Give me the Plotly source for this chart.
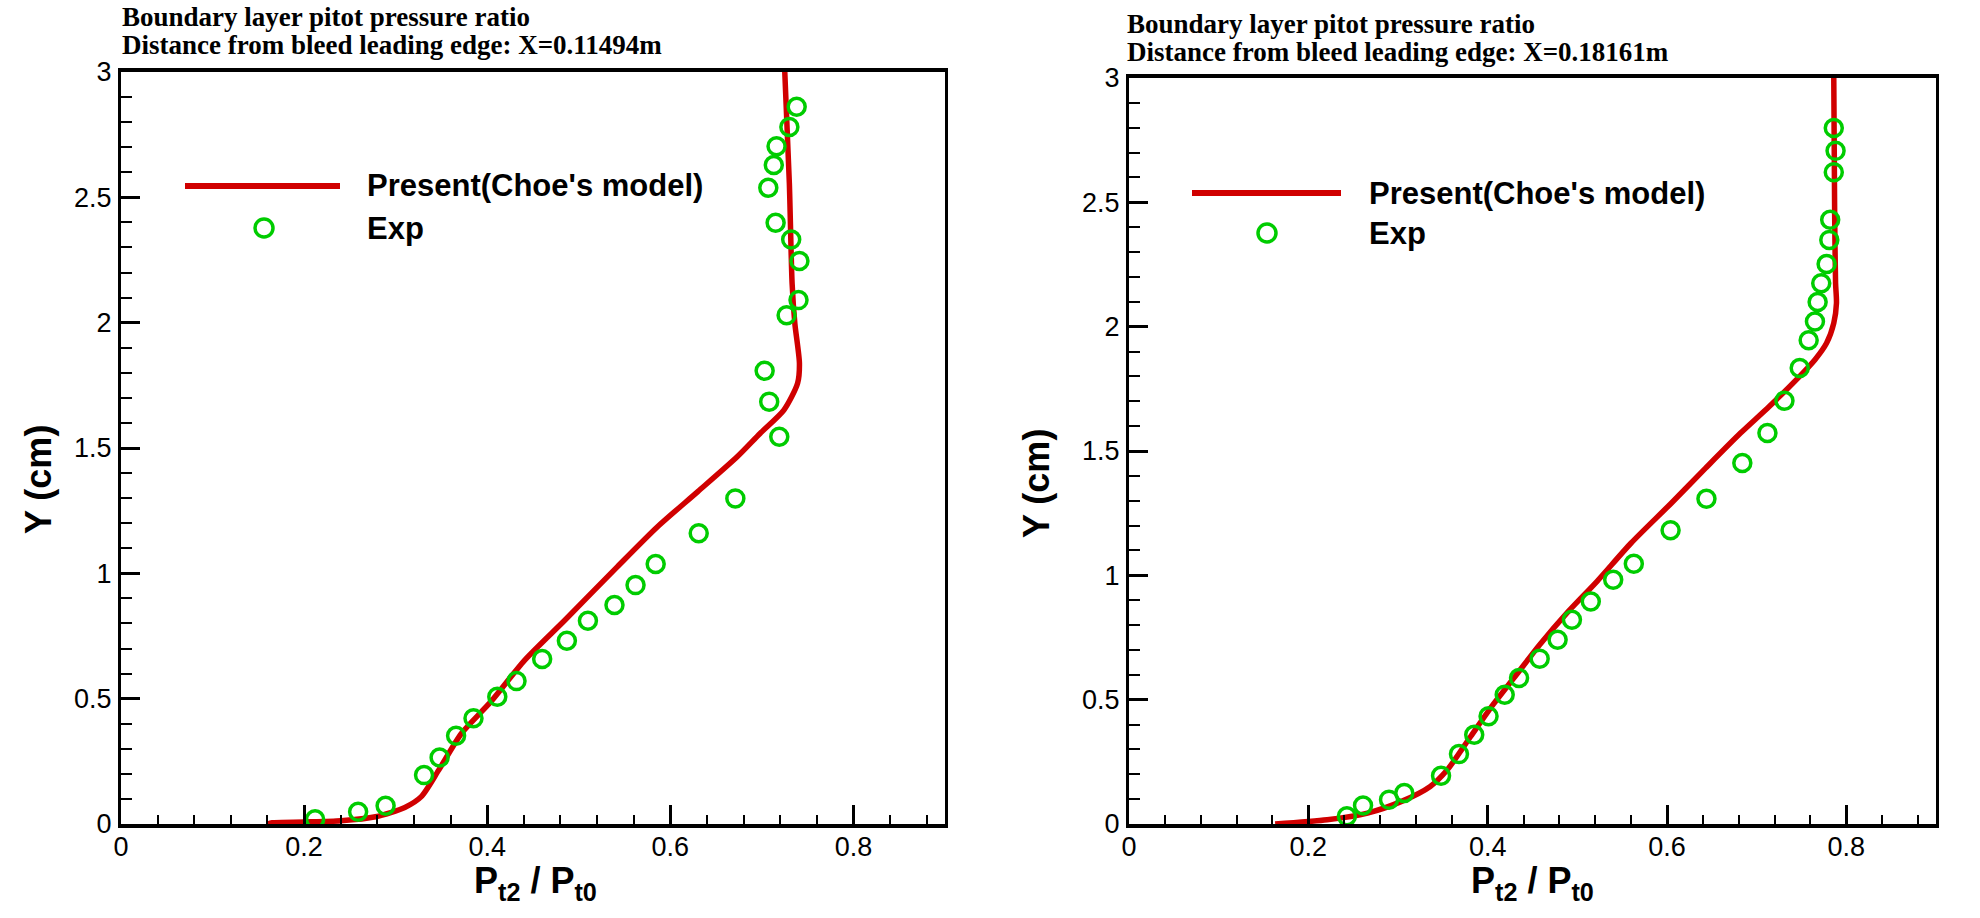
import plotly.graph_objects as go

# ---------------- data ----------------
# Left panel: X = 0.11494 m
x_cfd_1 = [0.160, 0.165, 0.200, 0.240, 0.278, 0.310, 0.328, 0.347, 0.372, 0.404, 0.441,
           0.485, 0.542, 0.586, 0.630, 0.673, 0.698, 0.724, 0.739, 0.741, 0.736, 0.733,
           0.730, 0.725]
y_cfd_1 = [0.000, 0.005, 0.008, 0.013, 0.029, 0.066, 0.109, 0.215, 0.362, 0.488, 0.654,
           0.814, 1.026, 1.186, 1.326, 1.465, 1.558, 1.651, 1.758, 1.838, 1.997, 2.157,
           2.556, 3.000]
x_exp_1 = [0.738, 0.730, 0.716, 0.713, 0.707, 0.715, 0.732, 0.741, 0.740, 0.727, 0.703,
           0.708, 0.719, 0.671, 0.631, 0.584, 0.562, 0.539, 0.510, 0.487, 0.460, 0.432,
           0.411, 0.385, 0.366, 0.348, 0.331, 0.289, 0.259, 0.212]
y_exp_1 = [2.861, 2.781, 2.704, 2.629, 2.538, 2.399, 2.332, 2.246, 2.090, 2.030, 1.808,
           1.685, 1.545, 1.299, 1.160, 1.037, 0.953, 0.874, 0.811, 0.731, 0.658, 0.570,
           0.508, 0.422, 0.352, 0.265, 0.195, 0.073, 0.049, 0.019]

# Right panel: X = 0.18161 m
x_cfd_2 = [0.163, 0.221, 0.266, 0.304, 0.336, 0.355, 0.381, 0.406, 0.432, 0.458, 0.490,
           0.522, 0.560, 0.605, 0.643, 0.682, 0.714, 0.746, 0.765, 0.778, 0.786, 0.789,
           0.788, 0.787, 0.786]
y_cfd_2 = [0.000, 0.017, 0.044, 0.091, 0.151, 0.218, 0.352, 0.480, 0.600, 0.721, 0.855,
           0.976, 1.130, 1.291, 1.431, 1.572, 1.679, 1.793, 1.867, 1.934, 2.014, 2.095,
           2.175, 2.443, 3.000]
x_exp_2 = [0.786, 0.788, 0.786, 0.782, 0.781, 0.778, 0.772, 0.768, 0.765, 0.758, 0.748,
           0.731, 0.712, 0.684, 0.644, 0.604, 0.563, 0.540, 0.515, 0.494, 0.478, 0.458,
           0.435, 0.419, 0.401, 0.385, 0.368, 0.348, 0.307, 0.290, 0.261, 0.243]
y_exp_2 = [2.799, 2.707, 2.621, 2.430, 2.349, 2.252, 2.175, 2.099, 2.021, 1.945, 1.834,
           1.702, 1.572, 1.452, 1.308, 1.181, 1.047, 0.982, 0.895, 0.821, 0.741, 0.665,
           0.587, 0.520, 0.433, 0.359, 0.281, 0.194, 0.125, 0.098, 0.074, 0.031]

titles = ["Boundary layer pitot pressure ratio",
          ["Distance from bleed leading edge: X=0.11494m",
           "Distance from bleed leading edge: X=0.18161m"]]
series_names = ["Present(Choe's model)", "Exp"]
x_title = "P<sub>t2</sub> / P<sub>t0</sub>"
y_title = "Y (cm)"

# ---------------- style ----------------
W, H = 1980, 918
RED = "#D00000"
GREEN = "rgb(0,204,0)"
SANS = "Liberation Sans, Arial, sans-serif"
SERIF = "Liberation Serif, Times New Roman, serif"


def px(x):
    return x / W


def py(y):
    return 1 - y / H


panels = [
    dict(xd=[121, 945], yd=[72, 824], title_x=120, t1=17, t2=45,
         leg_line=[185, 340, 186], leg_txt=365, leg_mark=[264, 228],
         xt=[535, 883], yt=[38, 480]),
    dict(xd=[1129, 1936], yd=[78, 824], title_x=1125, t1=24, t2=52,
         leg_line=[1192, 1341, 193], leg_txt=1367, leg_mark=[1267, 233],
         xt=[1532, 883], yt=[1036, 484]),
]

data_sets = [(x_cfd_1, y_cfd_1, x_exp_1, y_exp_1), (x_cfd_2, y_cfd_2, x_exp_2, y_exp_2)]

fig = go.Figure()
annotations = []
shapes = []
layout_axes = {}

for i, (p, (xc, yc, xe, ye)) in enumerate(zip(panels, data_sets)):
    n = "" if i == 0 else str(i + 1)
    xa, ya = "x" + n, "y" + n
    fig.add_trace(go.Scatter(x=xc, y=yc, mode="lines", xaxis=xa, yaxis=ya,
                             line=dict(color=RED, width=5.5, shape="spline", smoothing=0.7),
                             name=series_names[0], showlegend=False))
    fig.add_trace(go.Scatter(x=xe, y=ye, mode="markers", xaxis=xa, yaxis=ya,
                             marker=dict(symbol="circle-open", size=17, color=GREEN,
                                         line=dict(color=GREEN, width=3.5)),
                             name=series_names[1], showlegend=False))
    layout_axes["xaxis" + n] = dict(
        domain=[px(p["xd"][0]), px(p["xd"][1])], range=[0, 0.9], anchor=ya,
        dtick=0.2, tick0=0, ticks="inside", ticklen=19, tickwidth=3, tickcolor="black",
        minor=dict(dtick=0.04, ticks="inside", ticklen=9, tickwidth=1.5, tickcolor="black"),
        showline=True, linewidth=4, linecolor="black", mirror=True,
        showgrid=False, zeroline=False, automargin=False,
        tickfont=dict(family=SANS, size=27, color="black"), ticklabelstandoff=-4,
    )
    layout_axes["yaxis" + n] = dict(
        domain=[py(p["yd"][1]), py(p["yd"][0])], range=[0, 3], anchor=xa,
        dtick=0.5, tick0=0, ticks="inside", ticklen=19, tickwidth=3, tickcolor="black",
        minor=dict(dtick=0.1, ticks="inside", ticklen=11, tickwidth=1.5, tickcolor="black"),
        showline=True, linewidth=3, linecolor="black", mirror=True,
        showgrid=False, zeroline=False, automargin=False,
        tickfont=dict(family=SANS, size=27, color="black"), ticklabelstandoff=1,
    )
    # titles
    annotations.append(dict(text="<b>" + titles[0] + "</b>", xref="paper", yref="paper",
                            x=px(p["title_x"]), y=py(p["t1"]), xanchor="left", yanchor="middle",
                            showarrow=False, font=dict(family=SERIF, size=27, color="black")))
    annotations.append(dict(text="<b>" + titles[1][i] + "</b>", xref="paper", yref="paper",
                            x=px(p["title_x"]), y=py(p["t2"]), xanchor="left", yanchor="middle",
                            showarrow=False, font=dict(family=SERIF, size=27, color="black")))
    # axis titles
    annotations.append(dict(text="<b>" + x_title + "</b>", xref="paper", yref="paper",
                            x=px(p["xt"][0]), y=py(p["xt"][1]), xanchor="center", yanchor="middle",
                            showarrow=False, font=dict(family=SANS, size=36, color="black")))
    annotations.append(dict(text="<b>" + y_title + "</b>", xref="paper", yref="paper",
                            x=px(p["yt"][0]), y=py(p["yt"][1]), xanchor="center", yanchor="middle",
                            textangle=-90, showarrow=False,
                            font=dict(family=SANS, size=36, color="black")))
    # custom legend
    l0, l1, ly = p["leg_line"]
    shapes.append(dict(type="line", xref="paper", yref="paper", x0=px(l0), x1=px(l1),
                       y0=py(ly), y1=py(ly), line=dict(color=RED, width=6)))
    mx, my = p["leg_mark"]
    r = 9
    shapes.append(dict(type="circle", xref="paper", yref="paper", x0=px(mx - r), x1=px(mx + r),
                       y0=py(my + r), y1=py(my - r), line=dict(color=GREEN, width=3.5)))
    annotations.append(dict(text="<b>" + series_names[0] + "</b>", xref="paper", yref="paper",
                            x=px(p["leg_txt"]), y=py(ly), xanchor="left", yanchor="middle",
                            showarrow=False, font=dict(family=SANS, size=31, color="black")))
    annotations.append(dict(text="<b>" + series_names[1] + "</b>", xref="paper", yref="paper",
                            x=px(p["leg_txt"]), y=py(my), xanchor="left", yanchor="middle",
                            showarrow=False, font=dict(family=SANS, size=31, color="black")))

fig.update_layout(
    width=W, height=H, autosize=False,
    margin=dict(l=0, r=0, t=0, b=0, pad=0),
    paper_bgcolor="white", plot_bgcolor="white",
    showlegend=False,
    annotations=annotations, shapes=shapes,
    **layout_axes,
)

fig.write_html("out.html")
